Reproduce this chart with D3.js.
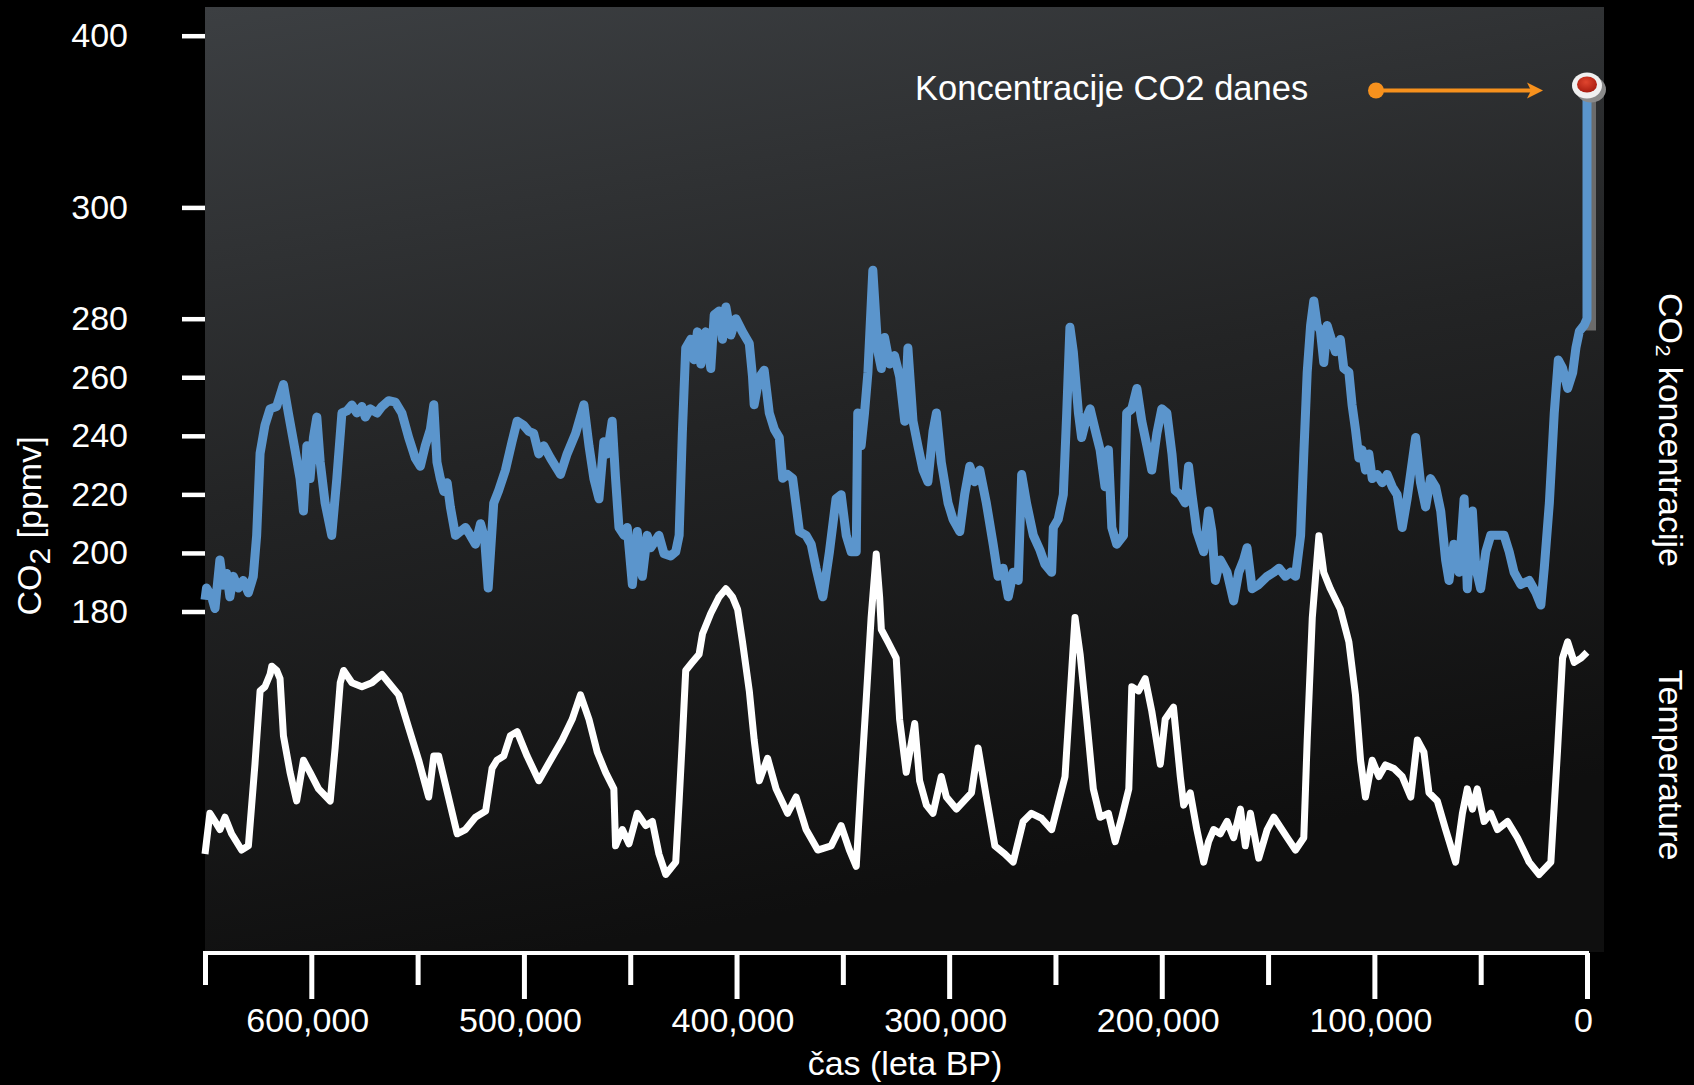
<!DOCTYPE html>
<html><head><meta charset="utf-8">
<script src="https://cdn.jsdelivr.net/npm/d3@7"></script>
<style>
body{margin:0;background:#000;}
svg{display:block;}
text{font-family:"Liberation Sans",Arial,Helvetica,sans-serif;fill:#fff;}
</style>
</head><body>
<svg id="chart" width="1694" height="1085"></svg>
<script>
// ---- data (age in thousands of years BP) ----
const co2AgeKyr = [650,649.3,646.9,645.3,643,641.4,639.8,638.3,636.7,634.3,632,629.6,627.3,625.7,624.1,621.8,619.4,616.3,613.1,610.8,607.6,605.3,603.7,602.1,600.6,599,597.4,595.8,593.5,590.4,588,585.6,583.3,580.9,578.6,576.2,574.6,572.3,569.1,566.8,563.6,560.5,557.4,554.2,551.1,548.7,546.4,544,542.4,540.9,539.3,537.7,536.1,534.6,532.2,529.9,527.5,525.2,522.8,520.4,518.5,516.8,514.2,511.9,508.7,505.6,503.2,500.1,497.7,495.4,493,490.7,487.5,482.8,479.7,475.7,471.8,469.4,467.1,464.7,462.4,460.8,458.5,456.9,455.3,452.9,451.4,449,446.7,444.3,442,440.4,436.5,434.1,431,428.6,427,425.5,423.9,421.5,420,418.4,416.8,414.5,412.1,410.5,408.2,406.6,405,402.7,400.3,397.2,394,392.5,391.7,389.3,387,384.6,382.2,379.9,378.3,376,373.6,370.4,367.3,364.9,362.6,359.4,356.3,353.2,350.8,348.4,346.1,343.7,343,341.4,339.8,338.2,335.9,333.5,331.9,330.4,328,325.7,323.3,320.9,319.4,317,314.7,312.3,310,307.6,306,303.7,300.5,298.2,295,292.7,290.3,288,285.6,282.5,279.3,277,274.6,272.2,269.9,267.5,265.9,263.6,260.4,257.3,255,251.8,251,248.7,246.3,244.7,243.2,241.6,239.2,237.7,235.3,233.7,231.4,229,226.7,225.1,223.5,221.2,218,216.5,214.1,211.7,209.4,207,204.7,202.3,200,197.6,195.2,193.7,191.3,189,187.4,185.8,183.5,180.3,178,176.4,174.8,172.5,169.3,166.2,163.8,161.5,159.9,157.5,154.4,150.4,147.3,144.9,141.8,139.4,137.1,134.7,133.2,131.6,130,128.5,126.9,125.4,123.8,122.2,120.7,118.3,116,114.4,112,110.5,108.9,107.3,105.8,104.2,102.6,101,98.7,96.3,94,91.6,89.3,86.9,84.6,82.2,80.6,78.3,75.9,73.6,71.2,68.8,66.5,64.9,62.6,60.2,57.8,56.3,53.9,52.3,50,47.6,45.3,42.1,39,36.6,34.3,31.1,27.2,24,21.7,20.1,17.7,15.4,13.5,11.5,9.1,6.7,5.2,3.6,1.3,0,0];
const co2Ppmv = [184,188,185,181,197.6,189,193,185,192,188,190.6,186.4,192,206,234,243.6,249.2,250,257.5,247.8,235,225.4,214.3,236.6,225.4,239.4,246.4,231,217,206,225.4,247.8,248.5,250.5,247.8,250,246.4,249.2,247.8,250,252,251.5,247.8,239.4,232.4,229.6,236.6,242.2,250.6,231,225.4,221,224,215.7,206,207.3,208.7,206,203,210,205,188,217,221.3,228.3,238,245,243.6,241.5,240.8,233.8,236.6,232.4,226.8,233.8,240.8,250.6,236.6,225.4,218.5,238,233.8,245,225.4,208.7,206,208.7,189.2,207.3,192,206,201.8,206,199.7,199,200.4,206,240.8,270,273,266,275.5,264.5,275.5,263,280.7,281.4,273,282.1,274.4,280,275.5,271.5,260.3,250.6,260,262.4,247.8,242.2,239.4,225.5,226.8,225.4,207.3,206,203,194.8,185,200.4,218.5,219.9,206,200.4,200.4,247.8,236.6,247.8,261.7,288.7,268.7,263,273.6,264.5,267.4,260.3,245,270,245,236.6,228.3,224.3,241.5,247.8,231,217,211.5,207.3,220,229.6,224.3,228.3,217,203,192,194.8,185,193.4,190.6,226.8,217,206,201,196.2,193.4,208.7,211.5,219.9,247.8,277.1,268.7,247.8,239.4,246.4,249.2,242.2,235.2,222.6,235.2,208.7,203,206,247.8,249.2,256.2,245,236.6,228.3,240.8,249.2,247.8,233.8,221.3,219.9,217.1,229.6,219.9,207.3,200.4,214.3,207.3,190.6,197.6,193.4,183.6,193.4,197.6,201.8,187.8,189.2,192,193.4,194.8,192,193.4,192,206,233.8,261.7,277.7,283.2,277.7,276,265,277.7,274,268.7,272.9,263.1,261.7,250.6,242.2,232.4,235.2,228.3,233.8,225.4,226.8,224,226.8,222.6,219.9,208.7,218.5,231,239.4,224,215.7,225.4,222.6,214.3,197.6,190.6,203,193.4,218.5,187.8,214.3,194.8,187.8,200.4,206,206,206,200.4,193.4,189.2,190.6,186.4,182.2,194.8,217.1,247.8,265.9,263.1,256.2,261.7,270.1,275.7,277.8,280,371];

const tempAgeKyr = [650,647.7,645.3,643,640.6,637.5,632.8,629.6,626.5,624.1,621.8,619.4,618.6,616.3,614.7,613.1,610,606.9,603.7,600.6,596.6,591.1,588.8,586.4,584.8,580.9,576.2,571.5,566.8,563.6,558.9,554.2,549.5,544.8,542.4,540.1,536.9,531.4,527.5,522.8,518,515,512.7,509.5,506.4,503.2,498.5,493,487.5,482,477.3,473.4,469.4,465.5,461.6,457.7,456.9,453.7,450.6,446.7,442.7,439.6,436.5,433.3,428.6,427,425.5,423.9,420.8,417.6,416,412.1,408.2,405,401.9,399.5,397.2,394,391.7,389.3,385.4,381.4,376,372,367.3,361.8,355.5,350.8,346.9,343.7,341.4,339,336.7,334.3,332.7,331.9,328.8,324.9,323.3,320.2,316.2,313.9,310.7,307.6,303.7,301.3,296.6,289.5,286.4,282.5,278.5,273.8,269.9,265.2,261.3,256.5,251.8,245.5,243.2,240.8,238.4,235.3,232.2,229,225.1,221.9,218.8,215.5,214.1,210.9,207.8,204.7,200.7,198.4,194.5,191.3,189.7,186.6,183.5,180.3,178,175.6,172.5,169.3,166.2,163,160.7,158.3,154.4,150.4,147.3,141,137.1,133.2,131.6,129.2,126.1,123.8,120.7,116,112,108.9,106.5,104.2,101,97.9,94.8,90.8,86.9,82.9,79.8,76.7,74.3,70.4,66.5,61.8,58.6,56.3,53.9,51.6,48.4,45.3,42.1,37.4,32.7,27.2,22.5,17,13.9,11.5,9.1,6,2.8,0];
const tempAnomaly = [-8.54,-6.89,-7.22,-7.55,-7.05,-7.72,-8.38,-8.21,-4.9,-1.93,-1.76,-1.26,-0.93,-1.1,-1.43,-3.75,-5.23,-6.39,-4.74,-5.23,-5.9,-6.39,-4.24,-1.6,-1.1,-1.6,-1.76,-1.6,-1.26,-1.6,-2.09,-3.42,-4.74,-6.23,-4.57,-4.57,-5.73,-7.72,-7.55,-7.05,-6.8,-5.07,-4.74,-4.57,-3.75,-3.58,-4.57,-5.57,-4.74,-3.92,-3.08,-2.09,-3.08,-4.41,-5.23,-5.9,-8.21,-7.55,-8.13,-6.89,-7.39,-7.22,-8.54,-9.37,-8.87,-6.39,-3.92,-1.1,-0.77,-0.44,0.39,1.22,1.88,2.21,1.88,1.38,0.06,-1.93,-3.92,-5.57,-4.66,-5.9,-6.89,-6.23,-7.55,-8.38,-8.21,-7.39,-8.38,-9.04,-5.57,-2.26,1.05,3.62,1.88,0.56,0.06,-0.6,-3.08,-5.23,-3.25,-5.57,-6.56,-6.89,-5.4,-6.23,-6.72,-6.06,-4.24,-6.23,-8.21,-8.54,-8.87,-7.22,-6.89,-7.1,-7.55,-5.4,-2.26,1.05,-0.44,-3.08,-5.9,-7.05,-6.89,-8.04,-7.05,-5.9,-1.76,-1.93,-1.43,-2.75,-4.9,-3.08,-2.59,-5.4,-6.56,-6.06,-7.55,-8.87,-8.04,-7.55,-7.72,-7.22,-7.88,-6.72,-8.21,-6.89,-8.71,-7.55,-7.05,-7.88,-8.38,-7.88,-3.92,1.05,4.36,2.87,2.21,1.38,0.06,-2.09,-4.74,-6.23,-4.74,-5.4,-4.93,-5.07,-5.4,-6.23,-3.92,-4.41,-6.06,-6.39,-7.55,-8.87,-6.89,-5.9,-6.72,-5.9,-7.22,-6.89,-7.55,-7.22,-7.88,-8.87,-9.37,-8.87,-4.41,-0.6,0.06,-0.77,-0.6,-0.36];

const co2TickValues = [180,200,220,240,260,280,300,400];
const majorAgeTicks = [600000,500000,400000,300000,200000,100000,0];
const minorAgeTicks = [650000,550000,450000,350000,250000,150000,50000];
const currentCO2 = 371;
const shadowBaseCO2 = 276;

const labels = {
  xTitle: "čas (leta BP)",
  yTitle: "CO",
  yTitleSub: "2",
  yTitleUnit: " [ppmv]",
  rightCO2: "CO₂ koncentracije",
  rightTemp: "Temperature",
  annotation: "Koncentracije CO2 danes"
};

// ---- scales ----
const svg = d3.select("#chart");
const x = d3.scaleLinear().domain([650000, 0]).range([205, 1587]);
const y = d3.scaleLinear().domain([180, 280, 300, 400]).range([611.5, 318.7, 207.4, 35.7]);
const yT = d3.scaleLinear().domain([-10, 5]).range([890, 520]);

// ---- background ----
const defs = svg.append("defs");
const bg = defs.append("linearGradient").attr("id","bg").attr("x1","0").attr("y1","0").attr("x2","0.25").attr("y2","1");
bg.append("stop").attr("offset","0").attr("stop-color","#3c3f42");
bg.append("stop").attr("offset","0.5").attr("stop-color","#232425");
bg.append("stop").attr("offset","1").attr("stop-color","#0f0f0f");
const rg = defs.append("radialGradient").attr("id","red").attr("cx","0.45").attr("cy","0.35").attr("r","0.7");
rg.append("stop").attr("offset","0").attr("stop-color","#e0452e");
rg.append("stop").attr("offset","1").attr("stop-color","#a4190e");

svg.append("rect").attr("x",205).attr("y",7).attr("width",1399).attr("height",945).attr("fill","url(#bg)");

// ---- series ----
const co2Data = co2AgeKyr.map((a,i)=>({age:a*1000, v:co2Ppmv[i]}));
const tempData = tempAgeKyr.map((a,i)=>({age:a*1000, v:tempAnomaly[i]}));

// gray shadow of modern rise
svg.append("line")
  .attr("x1", x(0)+3).attr("x2", x(0)+3)
  .attr("y1", y(currentCO2)).attr("y2", y(shadowBaseCO2))
  .attr("stroke","#6b6b6b").attr("stroke-width",12);

svg.append("path").datum(co2Data)
  .attr("fill","none").attr("stroke","#5b95cc").attr("stroke-width",9)
  .attr("stroke-linejoin","round")
  .attr("d", d3.line().x(d=>x(d.age)).y(d=>y(d.v)));

svg.append("path").datum(tempData)
  .attr("fill","none").attr("stroke","#ffffff").attr("stroke-width",7)
  .attr("stroke-linejoin","round")
  .attr("d", d3.line().x(d=>x(d.age)).y(d=>yT(d.v)));

// ---- current value marker ----
const mx = x(0), my = y(currentCO2);
svg.append("ellipse").attr("cx",mx+4).attr("cy",my+4).attr("rx",15).attr("ry",13).attr("fill","#8a8a8a");
svg.append("ellipse").attr("cx",mx).attr("cy",my).attr("rx",15).attr("ry",13).attr("fill","#f0f0f0");
svg.append("ellipse").attr("cx",mx).attr("cy",my-1).attr("rx",10).attr("ry",8).attr("fill","url(#red)");

// annotation arrow
const ay = my + 5;
const orange = "#f7911d";
svg.append("circle").attr("cx",mx-211).attr("cy",ay).attr("r",8).attr("fill",orange);
svg.append("line").attr("x1",mx-211).attr("x2",mx-56).attr("y1",ay).attr("y2",ay).attr("stroke",orange).attr("stroke-width",4);
svg.append("path").attr("d",`M${mx-44},${ay} L${mx-60},${ay-8} L${mx-56},${ay} L${mx-60},${ay+8} Z`).attr("fill",orange);
svg.append("text").attr("x",mx-672).attr("y",ay+10).attr("font-size",34.5).text(labels.annotation);

// ---- axes ----
const xMajor = svg.append("g").attr("transform","translate(0,953)")
  .call(d3.axisBottom(x).tickValues(majorAgeTicks).tickSize(46).tickSizeOuter(0).tickPadding(9).tickFormat(d3.format(",")));
const xMinor = svg.append("g").attr("transform","translate(0,953)")
  .call(d3.axisBottom(x).tickValues(minorAgeTicks).tickSize(32).tickSizeOuter(0).tickFormat(""));
[xMajor, xMinor].forEach(g=>{
  g.select(".domain").attr("stroke","#fff").attr("stroke-width",4).attr("d",`M${x(650000)-2},0H${x(0)+2}`);
  g.selectAll(".tick line").attr("stroke","#fff").attr("stroke-width",5);
  g.selectAll(".tick text").attr("fill","#fff").attr("font-size",34).attr("font-family",'"Liberation Sans",Arial,sans-serif').attr("dx",-4);
});

const yAxis = svg.append("g").attr("transform","translate(205,0)")
  .call(d3.axisLeft(y).tickValues(co2TickValues).tickSize(23).tickPadding(54).tickFormat(d3.format("d")));
yAxis.select(".domain").remove();
yAxis.selectAll(".tick line").attr("stroke","#fff").attr("stroke-width",4.5);
yAxis.selectAll(".tick text").attr("fill","#fff").attr("font-size",34).attr("font-family",'"Liberation Sans",Arial,sans-serif');

// ---- titles ----
svg.append("text").attr("x",905).attr("y",1075).attr("text-anchor","middle").attr("font-size",34).text(labels.xTitle);

const yt = svg.append("text").attr("transform","translate(41,526) rotate(-90)").attr("text-anchor","middle").attr("font-size",34);
yt.append("tspan").text(labels.yTitle);
yt.append("tspan").attr("dy",9).attr("font-size",30).text(labels.yTitleSub);
yt.append("tspan").attr("dy",-9).text(labels.yTitleUnit);

svg.append("text").attr("transform","translate(1659,430) rotate(90)").attr("text-anchor","middle").attr("font-size",34).text(labels.rightCO2);
svg.append("text").attr("transform","translate(1659,765) rotate(90)").attr("text-anchor","middle").attr("font-size",34).text(labels.rightTemp);
</script>
</body></html>
